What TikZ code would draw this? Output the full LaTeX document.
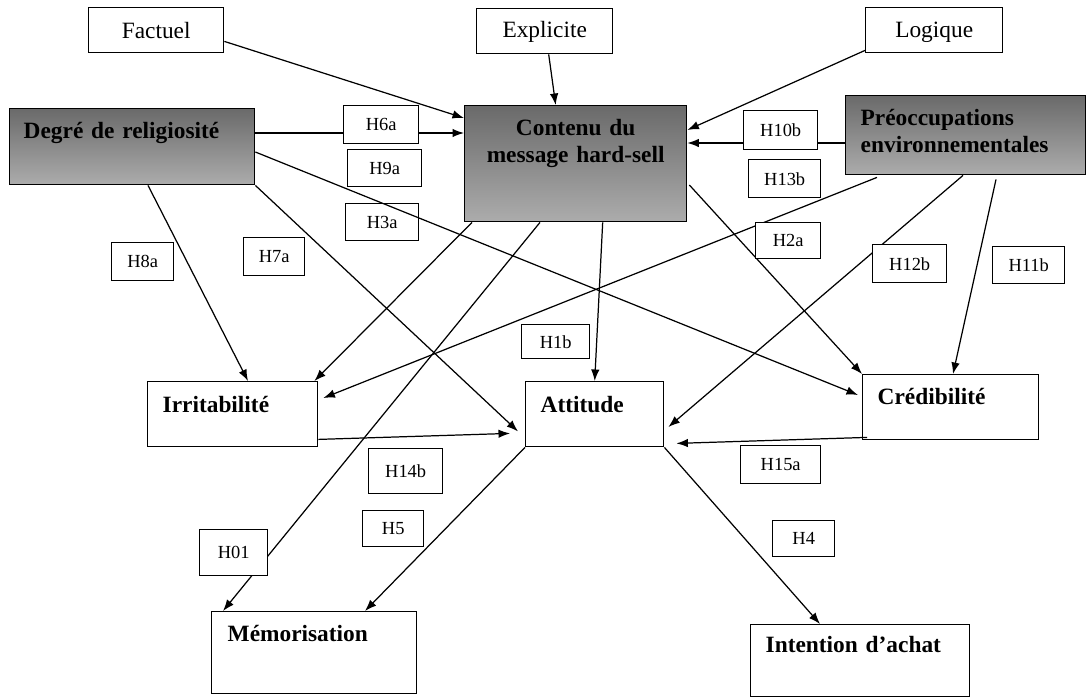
\documentclass[tikz,border=0pt]{standalone}
\usepackage{fontspec}
\setmainfont{Liberation Serif}
\usetikzlibrary{arrows.meta,calc}
\definecolor{shadetop}{RGB}{106,106,106}
\definecolor{shadebot}{RGB}{172,172,172}

\begin{document}
\begin{tikzpicture}[x=0.02cm,y=-0.02cm,line width=0.7pt,
  >={Latex[length=2.3mm,width=1.7mm]},
  conbox/.style={draw,line width=0.8pt,anchor=north west,inner ysep=0pt,align=left,
    font=\fontsize{13.3}{15.3}\selectfont\bfseries},
  topbox/.style={conbox,align=center,inner xsep=0pt,font=\fontsize{13.3}{15}\selectfont},
  shadedbox/.style={conbox,top color=shadetop,bottom color=shadebot},
  hyp/.style={draw,fill=white,line width=0.8pt,anchor=north west,inner sep=0pt,
    font=\fontsize{10.5}{12}\selectfont}]
\useasboundingbox (0,0) rectangle (1087,697);

% concepts
\path (88,7) node (factuel) [topbox,text width=2.7cm,text height=0.62cm,text depth=0.28cm] {Factuel};
\path (476,8) node (explicite) [topbox,text width=2.72cm,text height=0.58cm,text depth=0.32cm] {Explicite};
\path (865,7) node (logique) [topbox,text width=2.74cm,text height=0.6cm,text depth=0.3cm] {Logique};
\path (9,108) node (religion) [shadedbox,inner xsep=0.28cm,text width=4.34cm,text height=0.6cm,text depth=0.92cm] {Degré de religiosité};
\path (464,105) node (contenu) [shadedbox,align=center,inner xsep=0pt,text width=4.44cm,text height=0.6cm,text depth=1.72cm] {Contenu du\\message hard-sell};
\path (845,95) node (environ) [shadedbox,inner xsep=0.3cm,text width=4.2cm,text height=0.6cm,text depth=0.98cm] {Préoccupations\\environnementales};
\path (147,381) node (irrit) [conbox,inner xsep=0.3cm,text width=2.8cm,text height=0.62cm,text depth=0.68cm] {Irritabilité};
\path (525,381) node (attitude) [conbox,inner xsep=0.3cm,text width=2.16cm,text height=0.62cm,text depth=0.68cm] {Attitude};
\path (862,374) node (credib) [conbox,inner xsep=0.3cm,text width=2.92cm,text height=0.6cm,text depth=0.7cm] {Crédibilité};
\path (211,611) node (memo) [conbox,inner xsep=0.32cm,text width=3.46cm,text height=0.6cm,text depth=1.04cm] {Mémorisation};
\path (750,624) node (intention) [conbox,inner xsep=0.3cm,text width=3.78cm,text height=0.56cm,text depth=0.88cm] {Intention d’achat};

\draw [->] ($(factuel.south east)+(0,-12)$) to ($(contenu.north west)+(0,13)$);
\draw [->] ($(explicite.south)+(4,0)$) to ($(contenu.north)+(-20,0)$);
\draw [->] ($(logique.south west)+(0,-3)$) to ($(contenu.north east)+(0,25)$);
\draw [->] ($(religion.north east)+(0,25)$) to ($(contenu.north west)+(0,28)$);
\draw [->] ($(environ.north west)+(0,48)$) to ($(contenu.north east)+(0,38)$);
\draw [->] ($(religion.south west)+(139,0)$) to ($(irrit.north west)+(101,0)$);
\draw [->] (religion.south east) to ($(attitude.south west)+(-7,-16)$);
\draw [->] ($(religion.north east)+(0,44)$) to ($(credib.north west)+(-4,21)$);
\draw [->] ($(contenu.south west)+(8,0)$) to ($(irrit.north east)+(-4,0)$);
\draw [->] ($(contenu.south west)+(76,0)$) to ($(memo.north west)+(12,0)$);
\draw [->] ($(contenu.south)+(27,0)$) to (attitude.north);
\draw [->] ($(contenu.north east)+(2,80)$) to (credib.north west);
\draw [->] ($(environ.south west)+(32,2)$) to ($(irrit.north east)+(5,17)$);
\draw [->] ($(environ.south west)+(118,0)$) to ($(attitude.north east)+(4,46)$);
\draw [->] ($(environ.south west)+(151,4)$) to ($(credib.north west)+(91,0)$);
\draw [->] ($(irrit.south east)+(0,-8)$) to ($(attitude.south west)+(-15,-14)$);
\draw [->] ($(credib.south west)+(5,-3)$) to ($(attitude.south east)+(12,-4)$);
\draw [->] (attitude.south west) to ($(memo.north west)+(154,0)$);
\draw [->] (attitude.south east) to ($(intention.north west)+(70,0)$);

% hypotheses
\path (343,105) node (h6a) [hyp,minimum width=1.5cm,minimum height=0.76cm] {H6a};
\path (347,149) node (h9a) [hyp,minimum width=1.48cm,minimum height=0.74cm] {H9a};
\path (345,203) node (h3a) [hyp,fill=none,minimum width=1.46cm,minimum height=0.74cm] {H3a};
\path (743,110) node (h10b) [hyp,minimum width=1.48cm,minimum height=0.78cm] {H10b};
\path (748,159) node (h13b) [hyp,minimum width=1.44cm,minimum height=0.76cm] {H13b};
\path (755,222) node (h2a) [hyp,minimum width=1.3cm,minimum height=0.72cm] {H2a};
\path (872,244) node (h12b) [hyp,minimum width=1.48cm,minimum height=0.76cm] {H12b};
\path (992,246) node (h11b) [hyp,minimum width=1.44cm,minimum height=0.74cm] {H11b};
\path (111,242) node (h8a) [hyp,minimum width=1.24cm,minimum height=0.76cm] {H8a};
\path (243,237) node (h7a) [hyp,minimum width=1.22cm,minimum height=0.76cm] {H7a};
\path (521,324) node (h1b) [hyp,minimum width=1.36cm,minimum height=0.68cm] {H1b};
\path (368,448) node (h14b) [hyp,minimum width=1.48cm,minimum height=0.9cm] {H14b};
\path (362,510) node (h5) [hyp,minimum width=1.22cm,minimum height=0.72cm] {H5};
\path (199,529) node (h01) [hyp,minimum width=1.36cm,minimum height=0.92cm] {H01};
\path (740,445) node (h15a) [hyp,minimum width=1.6cm,minimum height=0.76cm] {H15a};
\path (772,520) node (h4) [hyp,minimum width=1.24cm,minimum height=0.72cm] {H4};
\end{tikzpicture}
\end{document}
